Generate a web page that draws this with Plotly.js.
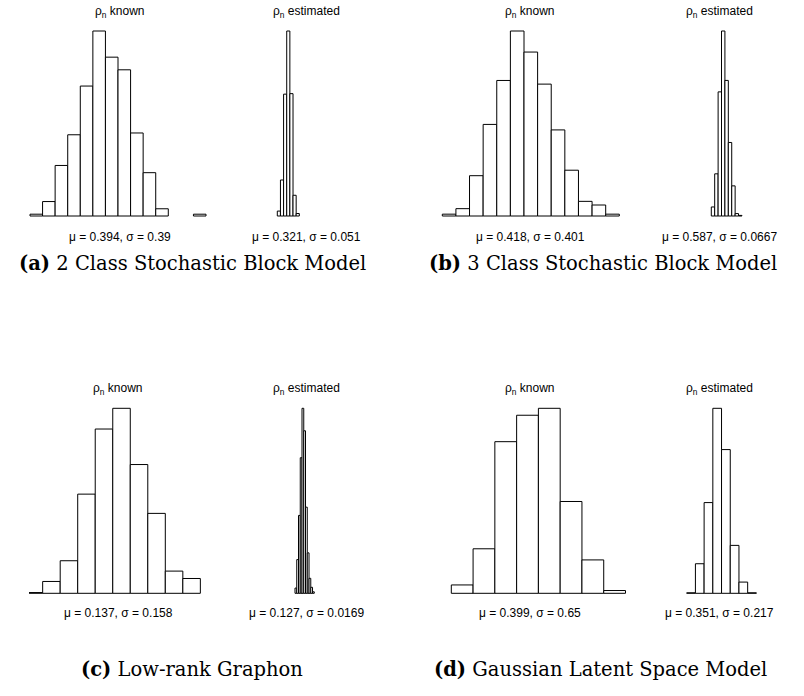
<!DOCTYPE html>
<html><head><meta charset="utf-8">
<script src="https://cdn.plot.ly/plotly-3.0.1.min.js"></script>
<style>html,body{margin:0;padding:0;background:#fff}#chart{width:804px;height:696px}</style>
</head><body><div id="chart"></div>
<script>
// ---------- data (histogram counts, bin starts, bin widths) ----------
const aKnownCounts = [2,16,56,90,144,205,176,162,92,48,8,0,0,2];
const aKnownBinStart = -0.8, aKnownBinWidth = 0.2;
const aEstCounts = [10,73,247,375,248,42,5];
const aEstBinStart = 0.15, aEstBinWidth = 0.05;

const bKnownCounts = [2,8,44,100,148,202,179,144,94,50,16,12,2];
const bKnownBinStart = -0.8, bKnownBinWidth = 0.2;
const bEstCounts = [15,70,206,307,225,122,50,4,1];
const bEstBinStart = 0.4, bEstBinWidth = 0.05;

const cKnownCounts = [1,16,44,134,222,250,174,108,30,20];
const cKnownBinStart = -0.4, cKnownBinWidth = 0.1;
const cEstCounts = [7,45,104,181,247,217,115,54,20,8,2];
const cEstBinStart = 0.08, cEstBinWidth = 0.01;

const dKnownCounts = [12,64,218,256,266,132,48,4];
const dKnownBinStart = -1.5, dKnownBinWidth = 0.5;
const dEstCounts = [1,58,178,363,282,94,22,1];
const dEstBinStart = -0.4, dEstBinWidth = 0.2;

const panelTitles = ["ρ<sub>n</sub> known", "ρ<sub>n</sub> estimated"];
const statLabels = [
  "μ = 0.394, σ = 0.39", "μ = 0.321, σ = 0.051",
  "μ = 0.418, σ = 0.401", "μ = 0.587, σ = 0.0667",
  "μ = 0.137, σ = 0.158", "μ = 0.127, σ = 0.0169",
  "μ = 0.399, σ = 0.65", "μ = 0.351, σ = 0.217"
];
const captions = [
  "<b>(a)</b> 2 Class Stochastic Block Model",
  "<b>(b)</b> 3 Class Stochastic Block Model",
  "<b>(c)</b> Low-rank Graphon",
  "<b>(d)</b> Gaussian Latent Space Model"
];

// ---------- layout geometry (pixels) ----------
const W = 804, H = 696;
const rows = [{base: 216, top: 31, title: 12, stat: 236.5, cap: 263},
              {base: 593.3, top: 408.3, title: 389, stat: 612.5, cap: 669}];
const hists = [
  {counts: aKnownCounts, start: aKnownBinStart, bw: aKnownBinWidth, row: 0, L: 22, R: 212, p0: 30.0, s: 62.86, cx: 120, t: 0, stat: 0},
  {counts: aEstCounts, start: aEstBinStart, bw: aEstBinWidth, row: 0, L: 212, R: 400, p0: 277.3, s: 62.86, cx: 306, t: 1, stat: 1},
  {counts: bKnownCounts, start: bKnownBinStart, bw: bKnownBinWidth, row: 0, L: 432, R: 622, p0: 442.3, s: 68.08, cx: 530, t: 0, stat: 2},
  {counts: bEstCounts, start: bEstBinStart, bw: bEstBinWidth, row: 0, L: 622, R: 803, p0: 711.3, s: 68.08, cx: 719.5, t: 1, stat: 3},
  {counts: cKnownCounts, start: cKnownBinStart, bw: cKnownBinWidth, row: 1, L: 29, R: 212, p0: 25.15, s: 175.2, cx: 118, t: 0, stat: 4},
  {counts: cEstCounts, start: cEstBinStart, bw: cEstBinWidth, row: 1, L: 212, R: 400, p0: 295.0, s: 175.2, cx: 306, t: 1, stat: 5},
  {counts: dKnownCounts, start: dKnownBinStart, bw: dKnownBinWidth, row: 1, L: 440, R: 627, p0: 451.3, s: 43.55, cx: 530, t: 0, stat: 6},
  {counts: dEstCounts, start: dEstBinStart, bw: dEstBinWidth, row: 1, L: 627, R: 803, p0: 686.7, s: 43.55, cx: 719.5, t: 1, stat: 7}
];
const captionPos = [{x: 192, row: 0}, {x: 603, row: 0}, {x: 192, row: 1}, {x: 600, row: 1}];

const traces = [];
const layout = {
  width: W, height: H, margin: {l: 0, r: 0, t: 0, b: 0},
  paper_bgcolor: '#fff', plot_bgcolor: 'rgba(0,0,0,0)', showlegend: false,
  annotations: []
};
const pad = 2;
hists.forEach((h, k) => {
  const n = k + 1;
  const sfx = n === 1 ? '' : String(n);
  const row = rows[h.row];
  const maxC = Math.max(...h.counts);
  const pxPerCount = (row.base - row.top) / maxC;
  traces.push({
    type: 'bar',
    x: h.counts.map((c, i) => h.start + (i + 0.5) * h.bw),
    y: h.counts.map(c => (c === 0 ? null : c)),
    width: h.bw,
    marker: {color: '#ffffff', line: {color: '#000000', width: 1}},
    xaxis: 'x' + sfx, yaxis: 'y' + sfx,
    hoverinfo: 'skip'
  });
  const ax = {visible: false, fixedrange: true};
  layout['xaxis' + sfx] = Object.assign({}, ax, {
    domain: [h.L / W, h.R / W],
    range: [h.start + (h.L - h.p0) / h.s, h.start + (h.R - h.p0) / h.s],
    anchor: 'y' + sfx
  });
  layout['yaxis' + sfx] = Object.assign({}, ax, {
    domain: [1 - (row.base + pad) / H, 1 - (row.top - pad) / H],
    range: [-pad / pxPerCount, maxC + pad / pxPerCount],
    anchor: 'x' + sfx
  });
  layout.annotations.push({
    text: panelTitles[h.t], xref: 'paper', yref: 'paper',
    x: h.cx / W, y: 1 - row.title / H, xanchor: 'center', yanchor: 'middle',
    showarrow: false, font: {family: 'Liberation Sans, Arial, sans-serif', size: 12, color: '#000'}
  });
  layout.annotations.push({
    text: statLabels[h.stat], xref: 'paper', yref: 'paper',
    x: h.cx / W, y: 1 - row.stat / H, xanchor: 'center', yanchor: 'middle',
    showarrow: false, font: {family: 'Liberation Sans, Arial, sans-serif', size: 12, color: '#000'}
  });
});
captions.forEach((c, i) => {
  const p = captionPos[i];
  layout.annotations.push({
    text: c, xref: 'paper', yref: 'paper',
    x: p.x / W, y: 1 - rows[p.row].cap / H, xanchor: 'center', yanchor: 'middle',
    showarrow: false, font: {family: 'DejaVu Serif, serif', size: 19.5, color: '#000'}
  });
});

Plotly.newPlot('chart', traces, layout, {staticPlot: true, displayModeBar: false});
</script>
</body></html>
